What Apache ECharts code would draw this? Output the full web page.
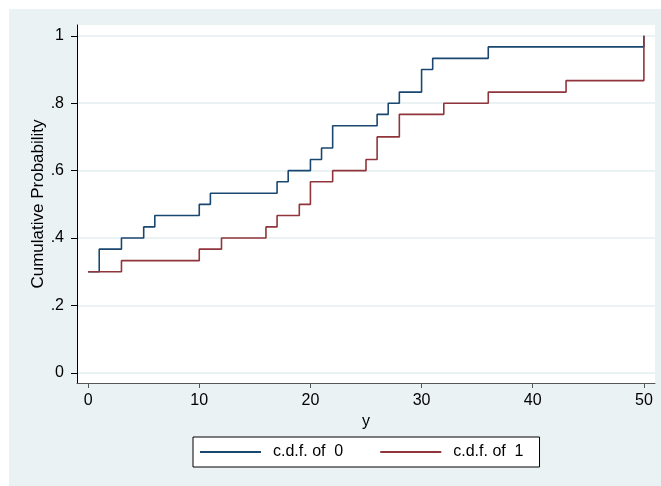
<!DOCTYPE html>
<html>
<head>
<meta charset="utf-8">
<script src="https://cdn.jsdelivr.net/npm/echarts@6/dist/echarts.min.js"></script>
<style>
  html, body { margin: 0; padding: 0; background: #fff; }
  #chart { position: absolute; left: 9px; top: 9px; width: 652px; height: 477px; background: #eaf2f3; }
</style>
</head>
<body>
<div id="chart"></div>
<script>
// c.d.f. of group 0 (x where the step happens, cumulative probability)
const x0 = [0, 1, 3, 5, 6, 10, 11, 17, 18, 20, 21, 22, 26, 27, 28, 30, 31, 36, 50];
const p0 = [0.300, 0.367, 0.400, 0.433, 0.467, 0.500, 0.533, 0.567, 0.600, 0.633,
            0.667, 0.733, 0.767, 0.800, 0.833, 0.900, 0.933, 0.967, 1.000];
// c.d.f. of group 1
const x1 = [0, 3, 10, 12, 16, 17, 19, 20, 22, 25, 26, 28, 32, 36, 43, 50];
const p1 = [0.300, 0.333, 0.367, 0.400, 0.433, 0.467, 0.500, 0.567, 0.600, 0.633,
            0.700, 0.767, 0.800, 0.833, 0.867, 1.000];

const xTicks = [0, 10, 20, 30, 40, 50];
const yTicks = [0, 0.2, 0.4, 0.6, 0.8, 1];
const names = ['c.d.f. of  0', 'c.d.f. of  1'];
const colors = ['#1a476f', '#90353b'];

const font = '"Liberation Sans", Arial, sans-serif';

function pairs(xs, ys) {
    let out = [];
    for (let i = 0; i < xs.length; ++i) {
        out.push([xs[i], ys[i]]);
    }
    return out;
}

const chart = echarts.init(document.getElementById('chart'));
chart.setOption({
    animation: false,
    color: colors,
    textStyle: { fontFamily: font },
    grid: {
        left: 68, top: 16, right: 6, bottom: 103,
        show: true, backgroundColor: '#ffffff', borderWidth: 0
    },
    legend: {
        left: 184, top: 428,
        data: names,
        backgroundColor: '#ffffff',
        borderColor: '#000000',
        borderWidth: 1,
        borderRadius: 0,
        padding: [7, 16, 7, 7],
        itemWidth: 61, itemHeight: 2, itemGap: 37,
        icon: 'rect',
        textStyle: { fontSize: 16, color: '#000', fontFamily: font, padding: [0, 0, 0, 7] }
    },
    xAxis: {
        type: 'value',
        min: -1, max: 51,
        name: 'y', nameLocation: 'middle', nameGap: 27,
        nameTextStyle: { fontSize: 16, color: '#000', fontFamily: font },
        axisLine: { onZero: false, lineStyle: { color: '#555', width: 1 } },
        axisTick: { customValues: xTicks, length: 5, lineStyle: { color: '#555' } },
        axisLabel: { customValues: xTicks, margin: 10, fontSize: 16, color: '#000', fontFamily: font },
        splitLine: { show: false }
    },
    yAxis: {
        type: 'value',
        min: -0.03, max: 1.032,
        name: 'Cumulative Probability', nameLocation: 'middle', nameGap: 30,
        nameMoveOverlap: false,
        nameTextStyle: { fontSize: 17, color: '#000', fontFamily: font },
        axisLine: { show: true, onZero: false, lineStyle: { color: '#000', width: 1 } },
        axisTick: { show: true, customValues: yTicks, length: 6, lineStyle: { color: '#000' } },
        axisLabel: {
            customValues: yTicks, margin: 13, fontSize: 16, color: '#000', fontFamily: font,
            formatter: function (v) {
                if (v === 0 || v === 1) return String(v);
                return String(+v.toFixed(1)).replace(/^0/, '');
            }
        },
        splitLine: { show: true, lineStyle: { color: '#eaf2f3', width: 2 } }
    },
    series: [
        {
            name: names[0], type: 'line', step: 'end', symbol: 'none',
            lineStyle: { width: 1.6, color: colors[0] },
            data: pairs(x0, p0)
        },
        {
            name: names[1], type: 'line', step: 'end', symbol: 'none',
            lineStyle: { width: 1.6, color: colors[1] },
            data: pairs(x1, p1)
        }
    ]
});
</script>
</body>
</html>
